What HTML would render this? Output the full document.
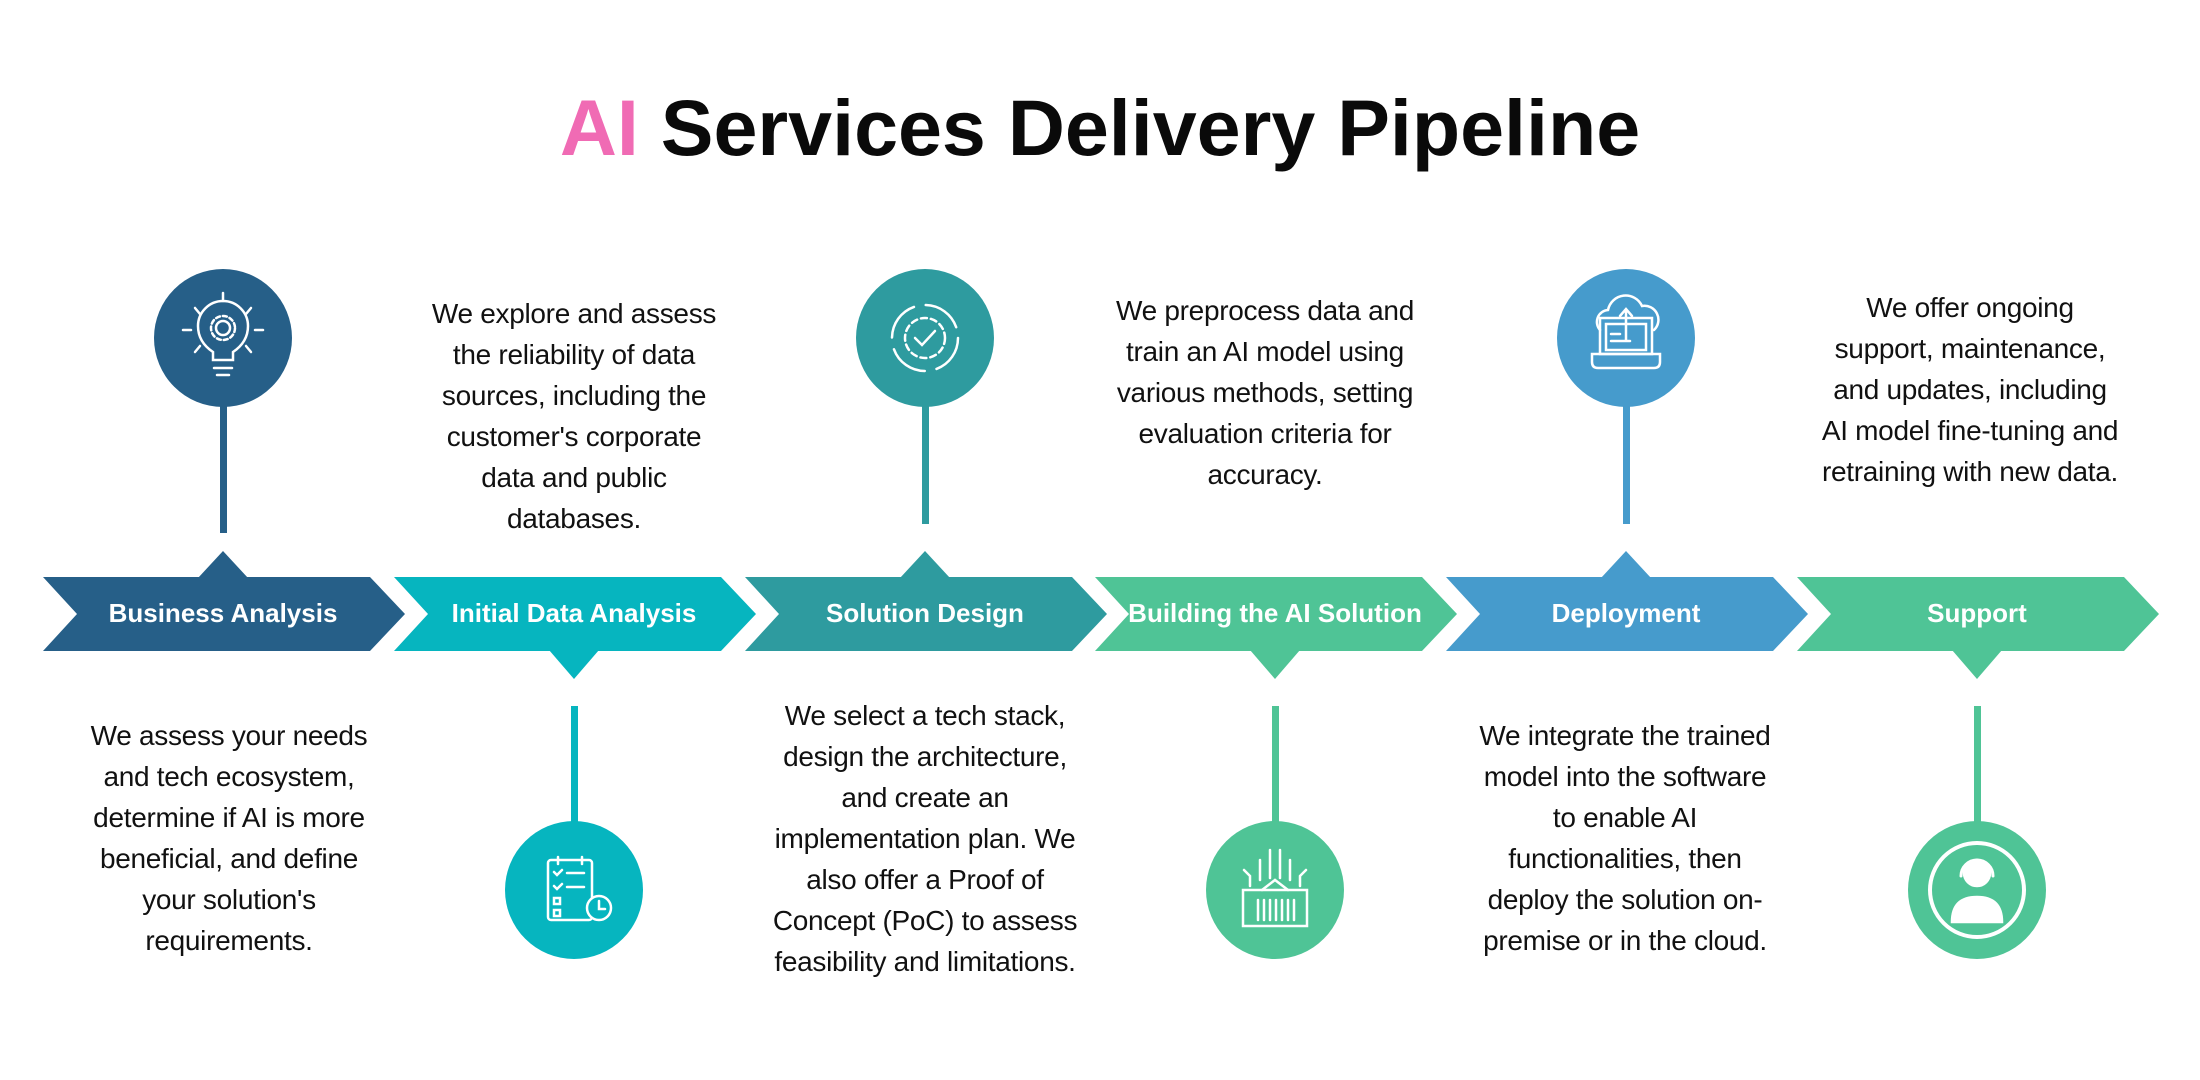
<!DOCTYPE html>
<html><head><meta charset="utf-8"><style>
html,body{margin:0;padding:0;background:#fff;}
#c{position:relative;width:2200px;height:1080px;overflow:hidden;font-family:"Liberation Sans",sans-serif;}
svg{position:absolute;left:0;top:0;}
.t{position:absolute;width:420px;text-align:center;font-size:28px;line-height:41px;color:#111;letter-spacing:-0.3px;}
.title{position:absolute;left:0;width:2200px;top:82px;text-align:center;font-size:79px;font-weight:bold;color:#0a0a0a;line-height:92px;}
.lab{position:absolute;width:360px;text-align:center;top:596px;font-size:26px;font-weight:bold;color:#fff;line-height:34px;}
</style></head><body><div id="c">
<div class="title"><span style="color:#f06bb4">AI</span> Services Delivery Pipeline</div>
<svg width="2200" height="1080" viewBox="0 0 2200 1080">
<g>
<polygon points="43,577 370,577 405,614 370,651 43,651 77,614" fill="#265f88"/>
<polygon points="394,577 721,577 756,614 721,651 394,651 428,614" fill="#06b5bf"/>
<polygon points="745,577 1072,577 1107,614 1072,651 745,651 779,614" fill="#2e9b9f"/>
<polygon points="1095,577 1422,577 1457,614 1422,651 1095,651 1129,614" fill="#4fc496"/>
<polygon points="1446,577 1773,577 1808,614 1773,651 1446,651 1480,614" fill="#469bcc"/>
<polygon points="1797,577 2124,577 2159,614 2124,651 1797,651 1831,614" fill="#4fc496"/>
<polygon points="198,578 223,551 248,578" fill="#265f88"/>
<polygon points="900,578 925,551 950,578" fill="#2e9b9f"/>
<polygon points="1601,578 1626,551 1651,578" fill="#469bcc"/>
<polygon points="549,650 574,679 599,650" fill="#06b5bf"/>
<polygon points="1250,650 1275,679 1300,650" fill="#4fc496"/>
<polygon points="1952,650 1977,679 2002,650" fill="#4fc496"/>
</g>
<rect x="220" y="400" width="7" height="133" fill="#265f88"/>
<rect x="922" y="400" width="7" height="124" fill="#2e9b9f"/>
<rect x="1623" y="400" width="7" height="124" fill="#469bcc"/>
<rect x="571" y="706" width="7" height="120" fill="#06b5bf"/>
<rect x="1272" y="706" width="7" height="120" fill="#4fc496"/>
<rect x="1974" y="706" width="7" height="120" fill="#4fc496"/>
<circle cx="223" cy="338" r="69" fill="#265f88"/>
<circle cx="925" cy="338" r="69" fill="#2e9b9f"/>
<circle cx="1626" cy="338" r="69" fill="#469bcc"/>
<circle cx="574" cy="890" r="69" fill="#06b5bf"/>
<circle cx="1275" cy="890" r="69" fill="#4fc496"/>
<circle cx="1977" cy="890" r="69" fill="#4fc496"/>
<g fill="none" stroke="#fff" stroke-width="2.5" stroke-linecap="round">
<path d="M213,360 v-8 q-15,-10 -15,-26 a25,25 0 0 1 50,0 q0,16 -15,26 v8 z"/>
<circle cx="223" cy="328" r="7"/><circle cx="223" cy="328" r="12" stroke-dasharray="4 3"/>
<line x1="214" y1="368" x2="232" y2="368"/><line x1="217" y1="375" x2="229" y2="375"/>
<line x1="223" y1="293" x2="223" y2="301"/><line x1="183" y1="330" x2="191" y2="330"/><line x1="255" y1="330" x2="263" y2="330"/>
<line x1="195" y1="308" x2="200" y2="314"/><line x1="251" y1="308" x2="246" y2="314"/>
<line x1="195" y1="352" x2="200" y2="346"/><line x1="251" y1="352" x2="246" y2="346"/>
<circle cx="925" cy="338" r="33" stroke-dasharray="40 12"/>
<circle cx="925" cy="338" r="20" stroke-dasharray="6 4"/>
<path d="M915,338 l7,7 l13,-14"/>
<path d="M1600,330 a12,12 0 0 1 8,-20 a18,18 0 0 1 34,-4 a14,14 0 0 1 12,24"/>
<rect x="1600" y="318" width="52" height="36"/><rect x="1606" y="324" width="40" height="26"/>
<path d="M1592,354 h68 v8 q0,6 -6,6 h-56 q-6,0 -6,-6 z"/>
<path d="M1626,340 v-30 m-6,6 l6,-7 l6,7"/>
<line x1="1611" y1="334" x2="1620" y2="334"/><line x1="1611" y1="341" x2="1630" y2="341"/>
<rect x="548" y="860" width="44" height="60" rx="3"/>
<line x1="558" y1="857" x2="558" y2="864"/><line x1="582" y1="857" x2="582" y2="864"/>
<path d="M554,872 l3,3 l5,-5 M554,886 l3,3 l5,-5"/><line x1="567" y1="873" x2="584" y2="873"/><line x1="567" y1="887" x2="584" y2="887"/>
<rect x="554" y="898" width="6" height="6"/><rect x="554" y="910" width="6" height="6"/>
<circle cx="599" cy="908" r="12" fill="#06b5bf"/><path d="M599,901 v8 h6"/>
<rect x="1243" y="890" width="64" height="36"/><path d="M1262,890 l13,-10 l13,10"/>
<path d="M1260,880 v-20 m10,18 v-28 m10,28 v-28 m10,30 v-20 M1250,886 v-10 l-6,-6 M1300,886 v-10 l6,-6"/>
<path d="M1258,900 v20 m6,-20 v20 m6,-20 v20 m6,-20 v20 m6,-20 v20 m6,-20 v20 m6,-20 v20"/>
<circle cx="1977" cy="890" r="47" stroke-width="4"/>
<circle cx="1977" cy="873" r="13" fill="#fff"/>
<path d="M1952,922 q0,-25 25,-25 q25,0 25,25 z" fill="#fff"/>
<path d="M1961,876 a16,16 0 0 1 32,0" stroke-width="3"/>
</g>
</svg>
<div class="lab" style="left:43px">Business Analysis</div>
<div class="lab" style="left:394px">Initial Data Analysis</div>
<div class="lab" style="left:745px">Solution Design</div>
<div class="lab" style="left:1095px">Building the AI Solution</div>
<div class="lab" style="left:1446px">Deployment</div>
<div class="lab" style="left:1797px">Support</div>

<div class="t" style="left:364px;top:293px">We explore and assess<br>the reliability of data<br>sources, including the<br>customer's corporate<br>data and public<br>databases.</div>
<div class="t" style="left:1055px;top:290px">We preprocess data and<br>train an AI model using<br>various methods, setting<br>evaluation criteria for<br>accuracy.</div>
<div class="t" style="left:1760px;top:287px">We offer ongoing<br>support, maintenance,<br>and updates, including<br>AI model fine-tuning and<br>retraining with new data.</div>
<div class="t" style="left:19px;top:715px">We assess your needs<br>and tech ecosystem,<br>determine if AI is more<br>beneficial, and define<br>your solution's<br>requirements.</div>
<div class="t" style="left:715px;top:695px">We select a tech stack,<br>design the architecture,<br>and create an<br>implementation plan. We<br>also offer a Proof of<br>Concept (PoC) to assess<br>feasibility and limitations.</div>
<div class="t" style="left:1415px;top:715px">We integrate the trained<br>model into the software<br>to enable AI<br>functionalities, then<br>deploy the solution on-<br>premise or in the cloud.</div>
</div></body></html>
